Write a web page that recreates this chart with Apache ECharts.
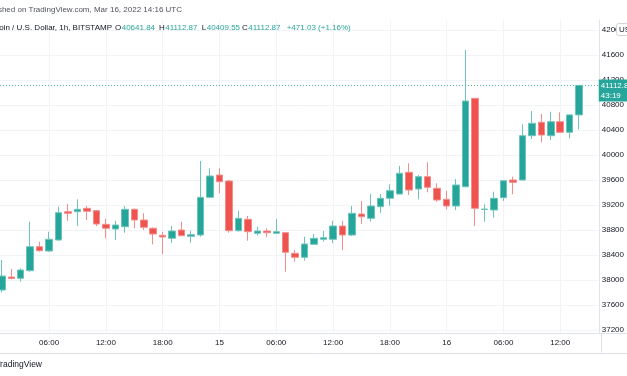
<!DOCTYPE html>
<html>
<head>
<meta charset="utf-8">
<title>BTCUSD 1h</title>
<script src="https://cdn.jsdelivr.net/npm/echarts@6/dist/echarts.min.js"></script>
<style>
  html, body { margin: 0; padding: 0; background: #fff; }
  #chart { width: 627px; height: 376px; }
</style>
</head>
<body>
<div id="chart"></div>
<script>
// hourly candles Mar 14 01:00 -> Mar 16 14:00 UTC, x = hours since Mar 14 00:00
const opens = [37840, 38048, 38027, 38149, 38533, 38464, 38640, 39093, 39093, 39147,
  39109, 38891, 38816, 38853, 39131, 38960, 38827, 38715, 38667, 38800,
  38699, 38720, 39323, 39680, 39584, 38789, 38971, 38747, 38784, 38747,
  38757, 38427, 38363, 38571, 38651, 38651, 38864, 38720, 39056, 38987,
  39173, 39307, 39376, 39723, 39456, 39653, 39467, 39291, 39184, 39493,
  40907, 39128, 39120, 39317, 39600, 39600, 40309, 40523, 40309, 40533,
  40363, 40641.84];
const closes = [38064, 38024, 38160, 38533, 38469, 38651, 39077, 39067, 39131, 39099,
  38896, 38827, 38880, 39131, 38960, 38843, 38736, 38688, 38784, 38709,
  38725, 39323, 39664, 39573, 38789, 38987, 38773, 38784, 38757, 38773,
  38443, 38363, 38576, 38667, 38677, 38864, 38720, 39067, 39013, 39184,
  39307, 39429, 39707, 39440, 39653, 39483, 39280, 39184, 39520, 40864,
  39147, 39136, 39307, 39589, 39563, 40309, 40507, 40320, 40533, 40363,
  40641.84, 41112.87];
const lows = [37800, 38011, 37973, 38133, 38453, 38450, 38630, 38949, 38864, 38960,
  38864, 38667, 38640, 38757, 38827, 38800, 38571, 38411, 38597, 38704,
  38597, 38693, 39310, 39387, 38757, 38773, 38629, 38709, 38683, 38740,
  38133, 38293, 38309, 38560, 38613, 38587, 38480, 38704, 38896, 38933,
  39077, 39189, 39370, 39360, 39291, 39403, 39253, 39131, 39120, 39480,
  38864, 38933, 38997, 39264, 39371, 39590, 40256, 40203, 40240, 40360,
  40267, 40409.55];
const highs = [38320, 38176, 38187, 38933, 38613, 38773, 39173, 39216, 39291, 39184,
  39120, 38976, 38949, 39184, 39147, 39067, 38843, 38773, 38864, 38933,
  38789, 39904, 39787, 39787, 39600, 39109, 39024, 38853, 38827, 38976,
  38760, 38480, 38693, 38736, 38784, 38949, 38949, 39184, 39264, 39376,
  39376, 39531, 39824, 39867, 39680, 39883, 39547, 39429, 39616, 41680,
  40912, 39211, 39413, 39600, 39653, 40491, 40704, 40656, 40693, 40683,
  40650, 41112.87];
const hours = opens.map((_, i) => i + 1);

const tickHours = [6, 12, 18, 24, 30, 36, 42, 48, 54, 60];
const tickLabels = ['06:00', '12:00', '18:00', '15', '06:00', '12:00', '18:00', '16', '06:00', '12:00'];
const priceTicks = [37200, 37600, 38000, 38400, 38800, 39200, 39600, 40000, 40400, 40800, 41200, 41600, 42000];

const xMin = 0.81, xMax = 64.07;
const yMin = 37152, yMax = 42160;

const UP = '#26a69a', DOWN = '#ef5350', TEXT = '#131722';
const FONT = '"Liberation Sans", Arial, sans-serif';

const n = closes.length;
const lastO = opens[n - 1], lastH = highs[n - 1], lastL = lows[n - 1], lastC = closes[n - 1];
const chg = lastC - closes[n - 2];
const chgPct = chg / closes[n - 2] * 100;

function txt(text, x, y, fill, align, size) {
  return {
    type: 'text', x: x, y: y, z: 100, silent: true,
    style: { text: text, fill: fill, font: (size || 8) + 'px ' + FONT, align: align || 'left', verticalAlign: 'middle' }
  };
}

const chart = echarts.init(document.getElementById('chart'));
const option = {
  animation: false,
  backgroundColor: '#fff',
  grid: { left: 0, right: 26, top: 20, bottom: 43 },
  xAxis: {
    type: 'value', min: xMin, max: xMax,
    axisLine: { lineStyle: { color: '#e0e3eb' } },
    axisTick: { show: false, customValues: tickHours },
    axisLabel: {
      customValues: tickHours,
      formatter: v => tickLabels[tickHours.indexOf(v)],
      color: TEXT, fontSize: 8, fontFamily: FONT, margin: 6
    },
    splitLine: { show: true, lineStyle: { color: '#f2f3f6' } }
  },
  yAxis: {
    type: 'value', position: 'right', min: yMin, max: yMax,
    axisLine: { show: true, lineStyle: { color: '#e0e3eb' } },
    axisTick: { show: false, customValues: priceTicks },
    axisLabel: {
      customValues: priceTicks,
      formatter: v => String(v),
      color: TEXT, fontSize: 8, fontFamily: FONT, margin: 3
    },
    splitLine: { show: true, lineStyle: { color: '#f2f3f6' } }
  },
  series: [{
    type: 'candlestick',
    barWidth: 7,
    data: hours.map((h, i) => [h, opens[i], closes[i], lows[i], highs[i]]),
    itemStyle: {
      color: UP, color0: DOWN,
      borderColor: '#6cc4bb', borderColor0: '#f48c8a', borderWidth: 1
    },
    markLine: {
      silent: true, symbol: ['none', 'none'],
      lineStyle: { color: '#4fb8ad', type: [1, 2], width: 1 },
      label: { show: false },
      data: [{ yAxis: lastC }]
    },
    markPoint: {
      silent: true,
      symbol: 'rect', symbolSize: [32, 22], symbolOffset: [16, 5],
      itemStyle: { color: UP },
      label: {
        show: true, position: 'insideLeft', distance: 2,
        formatter: lastC.toFixed(2) + '\n43:19',
        color: '#fff', fontSize: 8, lineHeight: 10, fontFamily: FONT
      },
      data: [{ coord: [xMax, lastC] }]
    }
  }],
  graphic: [
    txt('Published on TradingView.com, Mar 16, 2022 14:16 UTC', 182, 10, '#50535e', 'right'),
    txt('Bitcoin / U.S. Dollar, 1h, BITSTAMP', 112, 28, TEXT, 'right'),
    txt('O', 121.2, 28, TEXT, 'right'), txt(lastO.toFixed(2), 121.7, 28, UP),
    txt('H', 164.8, 28, TEXT, 'right'), txt(lastH.toFixed(2), 165.3, 28, UP),
    txt('L', 206.2, 28, TEXT, 'right'), txt(lastL.toFixed(2), 206.7, 28, UP),
    txt('C', 247.8, 28, TEXT, 'right'), txt(lastC.toFixed(2), 248.3, 28, UP),
    txt('+' + chg.toFixed(2) + ' (+' + chgPct.toFixed(2) + '%)', 286.7, 28, UP),
    {
      type: 'rect', z: 100, silent: true,
      shape: { x: 616.5, y: 23.5, width: 22, height: 12, r: 2 },
      style: { fill: '#fff', stroke: '#d1d4dc', lineWidth: 1 }
    },
    txt('USD', 619, 29.5, TEXT),
    {
      type: 'line', z: 100, silent: true,
      shape: { x1: 0, y1: 333.5, x2: 627, y2: 333.5 },
      style: { stroke: '#e0e3eb', lineWidth: 1 }
    },
    {
      type: 'line', z: 100, silent: true,
      shape: { x1: 0, y1: 353.5, x2: 627, y2: 353.5 },
      style: { stroke: '#e0e3eb', lineWidth: 1 }
    },
    {
      type: 'line', z: 100, silent: true,
      shape: { x1: 601.5, y1: 333, x2: 601.5, y2: 354 },
      style: { stroke: '#e0e3eb', lineWidth: 1 }
    },
    txt('TradingView', 42, 365, TEXT, 'right', 8.5)
  ]
};
chart.setOption(option);
</script>
</body>
</html>
